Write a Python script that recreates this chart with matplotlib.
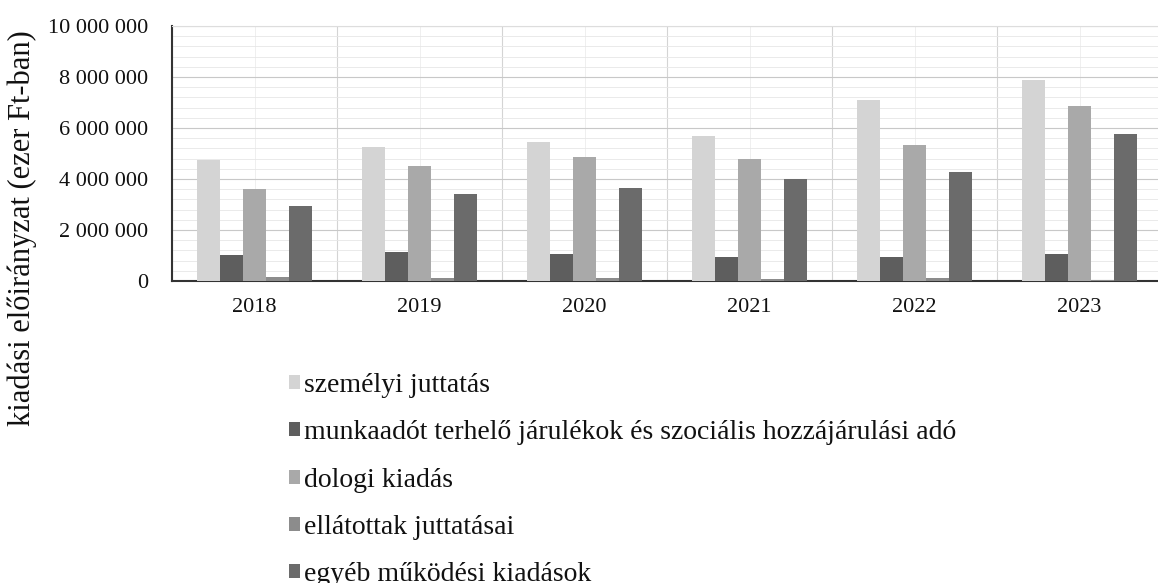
import matplotlib.pyplot as plt
from matplotlib.patches import Patch
from matplotlib.ticker import FuncFormatter, MultipleLocator
import numpy as np

years = ["2018", "2019", "2020", "2021", "2022", "2023"]
series_names = [
    "személyi juttatás",
    "munkaadót terhelő járulékok és szociális hozzájárulási adó",
    "dologi kiadás",
    "ellátottak juttatásai",
    "egyéb működési kiadások",
]
szemelyi = [4750000, 5250000, 5450000, 5700000, 7100000, 7880000]
munkaado = [1020000, 1140000, 1060000, 950000, 950000, 1060000]
dologi = [3600000, 4500000, 4860000, 4800000, 5330000, 6860000]
ellatottak = [150000, 120000, 100000, 80000, 100000, 50000]
egyeb = [2940000, 3400000, 3650000, 4000000, 4270000, 5760000]
series = [szemelyi, munkaado, dologi, ellatottak, egyeb]
colors = ["#d4d4d4", "#5e5e5e", "#a9a9a9", "#8c8c8c", "#6b6b6b"]

plt.rcParams["font.family"] = ["Liberation Serif", "DejaVu Serif"]

W, H = 1158, 583
fig = plt.figure(figsize=(W / 100, H / 100), dpi=100)
ax = fig.add_axes([172 / W, 1 - 281 / H, 990 / W, 255 / H])

x = np.arange(len(years))
bw = 0.14
for i, (vals, col) in enumerate(zip(series, colors)):
    ax.bar(x + (i - 2) * bw, vals, width=bw, color=col, zorder=3)

ax.set_xlim(-0.5, len(years) - 0.5)
ax.set_ylim(0, 10000000)
ax.set_xticks(x)
ax.set_xticklabels(years, fontsize=16)
ax.yaxis.set_major_locator(MultipleLocator(2000000))
ax.yaxis.set_minor_locator(MultipleLocator(400000))
ax.yaxis.set_major_formatter(FuncFormatter(lambda v, p: f"{int(v):,}".replace(",", " ")))
ax.tick_params(axis="y", labelsize=16, length=0, pad=17, which="both", labelcolor="#111111")
ax.tick_params(axis="x", length=0, pad=12, labelcolor="#111111")

# light grid: vertical lines at category centres and boundaries
ax.grid(True, axis="y", which="major", color="#c8c8c8", lw=0.8, zorder=0)
ax.grid(True, axis="y", which="minor", color="#e6e6e6", lw=0.6, zorder=0)
for b in np.arange(-0.5, len(years), 1.0):
    ax.axvline(b, color="#d4d4d4", lw=0.8, zorder=0)
for b in x:
    ax.axvline(b, color="#ececec", lw=0.6, zorder=0)

for side in ["top", "right"]:
    ax.spines[side].set_color("#dddddd")
ax.spines["left"].set_color("#333333")
ax.spines["left"].set_linewidth(1.5)
ax.spines["bottom"].set_color("#333333")
ax.spines["bottom"].set_linewidth(1.5)

fig.text(22 / W, 1 - 228 / H, "kiadási előirányzat (ezer Ft-ban)",
         rotation=90, ha="center", va="center", fontsize=22, color="#111111")

handles = [Patch(facecolor=c, edgecolor="none", label=n) for c, n in zip(colors, series_names)]
fig.legend(handles=handles, loc="upper left", bbox_to_anchor=(278 / W, 1 - 362 / H),
           frameon=False, fontsize=20, handlelength=0.4, handleheight=0.4,
           handletextpad=0.15, labelspacing=0.8, borderaxespad=0,
           labelcolor="#111111")

fig.savefig("out.png", dpi=100)
